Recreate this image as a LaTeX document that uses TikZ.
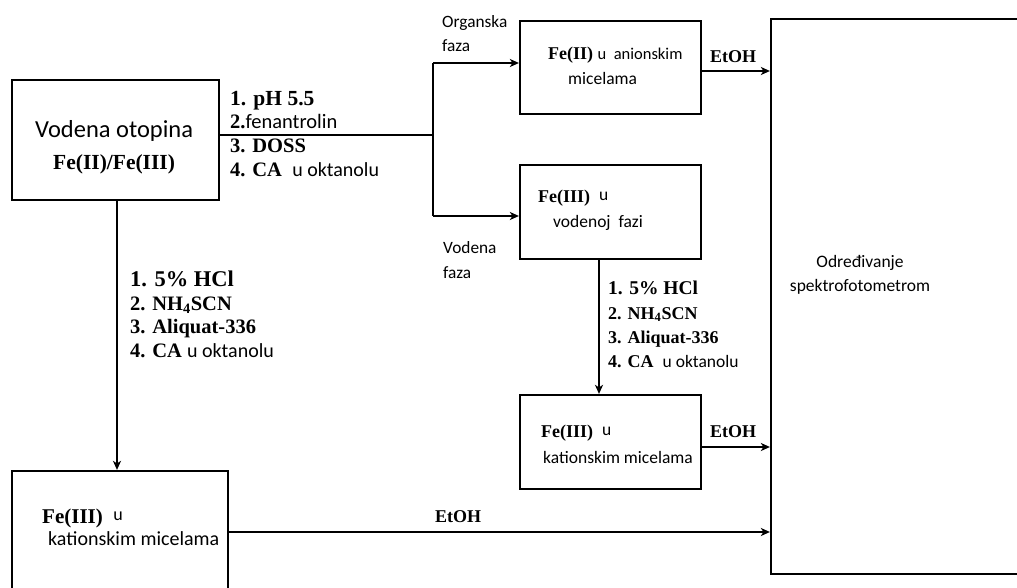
\documentclass[tikz,border=0pt]{standalone}
\usepackage{fontspec}
\setmainfont{Liberation Serif}
\newfontfamily\sansf{Carlito}
\usetikzlibrary{arrows.meta}
\begin{document}
\begin{tikzpicture}[x=1pt,y=-1pt,
  box/.style={draw, line width=2.2pt, inner sep=0pt},
  conn/.style={line width=1.8pt},
  arr/.style={conn, -{Stealth[length=9pt,width=8pt,inset=2.5pt]}},
  txt/.style={anchor=base west, inner sep=0pt},
  rgL/.style={txt, font=\bfseries\fontsize{20.5}{20.5}\selectfont},
  rgM/.style={txt, font=\bfseries\fontsize{18}{18}\selectfont},
  sfL/.style={txt, font=\sansf\fontsize{20}{20}\selectfont},
  sfM/.style={txt, font=\sansf\fontsize{17.5}{17.5}\selectfont},
  sfS/.style={txt, font=\sansf\fontsize{17.3}{17.3}\selectfont},
]
\useasboundingbox (0,0) rectangle (1017,588);
\clip (0,0) rectangle (1017,588);

% boxes
\node[box, minimum width=207pt, minimum height=120pt] (A) at (115.5,140) {};
\node[box, minimum width=181pt, minimum height=93pt] (B) at (610.5,67.5) {};
\node[box, minimum width=181pt, minimum height=94pt] (C) at (610.5,212) {};
\node[box, minimum width=181pt, minimum height=94pt] (E) at (610.5,442) {};
\node[box, minimum width=269pt, minimum height=555pt] (D) at (905.5,296.5) {};
\node[box, minimum width=216pt, minimum height=139pt] (F) at (120,540.5) {};

% connectors
\coordinate (J) at (433,135);
\coordinate (Jt) at (433,63);
\coordinate (Jb) at (433,216);
\draw[conn] (A.east |- J) -- (J);
\draw[conn] (Jt) -- (Jb);
\draw[arr] (Jt) -- (B.west |- Jt);
\draw[arr] (Jb) -- (C.west |- Jb);
\coordinate (bo) at (701,71);
\draw[arr] (B.east |- bo) -- (D.west |- bo);
\draw[arr] ([xshift=-11.5pt]C.south) -- ([xshift=-11.5pt]E.north);
\coordinate (eo) at (701,447);
\draw[arr] (E.east |- eo) -- (D.west |- eo);
\draw[arr] ([xshift=1.5pt]A.south) -- ([xshift=1.5pt]A.south |- F.north);
\coordinate (fo) at (228,532);
\draw[arr] (F.east |- fo) -- (D.west |- fo);

% box A text
\node[txt, font=\sansf\fontsize{24.5}{24.5}\selectfont] (tA1) at (35,138) {Vodena otopina};
\node[txt, font=\bfseries\fontsize{21.5}{21.5}\selectfont] (tA2) at (53,170) {Fe(II)/Fe(III)};

% top reagents
\node[txt, font=\bfseries\fontsize{21.5}{21.5}\selectfont] (r1a) at (230,106) {1. pH 5.5};
\node[rgL] (r1b) at (230,129) {2.{\sansf\mdseries fenantrolin}};
\node[rgL] (r1c) at (230,153) {3. DOSS};
\node[rgL] (r1d) at (230,177) {4. CA\ \ {\sansf\mdseries\fontsize{20}{20}\selectfont u oktanolu}};

% phase labels
\node[sfS] (org1) at (442,28) {Organska};
\node[sfS] (org2) at (442,52) {faza};
\node[sfS] (vod1) at (443,253) {Vodena};
\node[sfS] (vod2) at (443,278) {faza};

% box B text
\node[rgM] (tB1) at (548,60) {Fe(II)\ {\sansf\mdseries\fontsize{16.5}{16.5}\selectfont u\ \ anionskim}};
\node[sfM] (tB2) at (568,85) {micelama};

% EtOH labels
\node[rgM] (et1) at (710,63) {EtOH};
\node[rgM] (et2) at (710,437) {EtOH};
\node[rgM] (et3) at (435,522) {EtOH};

% box C text
\node[rgM] (tC1) at (538,203) {Fe(III)\ \ {\sansf\mdseries\fontsize{17.5}{17.5}\selectfont\raisebox{2pt}{u}}};
\node[sfM] (tC2) at (553,228) {vodenoj\ \ fazi};

% middle reagents
\node[txt, font=\bfseries\fontsize{19.5}{19.5}\selectfont] (r2a) at (608,294) {1. 5\% HCl};
\node[rgM] (r2b) at (608,319) {2. NH\textsubscript{4}SCN};
\node[rgM] (r2c) at (608,343) {3. Aliquat-336};
\node[rgM] (r2d) at (608,367) {4. CA\ \ {\sansf\mdseries\fontsize{17.5}{17.5}\selectfont u oktanolu}};

% box E text
\node[rgM] (tE1) at (541,437) {Fe(III)\ \ {\sansf\mdseries\fontsize{17.5}{17.5}\selectfont\raisebox{2pt}{u}}};
\node[sfM] (tE2) at (543,463) {kationskim micelama};

% box D text
\node[anchor=base, inner sep=0pt, font=\sansf\fontsize{17.5}{17.5}\selectfont] (tD1) at (860,267) {Određivanje};
\node[anchor=base, inner sep=0pt, font=\sansf\fontsize{17.5}{17.5}\selectfont] (tD2) at (860,291) {spektrofotometrom};

% left reagents
\node[txt, font=\bfseries\fontsize{22.5}{22.5}\selectfont] (r3a) at (130,286) {1. 5\% HCl};
\node[rgL] (r3b) at (130,310) {2. NH\textsubscript{4}SCN};
\node[rgL] (r3c) at (130,333) {3. Aliquat-336};
\node[rgL] (r3d) at (130,357) {4. CA {\sansf\mdseries\fontsize{20}{20}\selectfont u oktanolu}};

% box F text
\node[txt, font=\bfseries\fontsize{21}{21}\selectfont] (tF1) at (42,523) {Fe(III)\ \ {\sansf\mdseries\fontsize{18}{18}\selectfont\raisebox{3pt}{u}}};
\node[sfL] (tF2) at (48,545) {kationskim micelama};
\end{tikzpicture}
\end{document}
